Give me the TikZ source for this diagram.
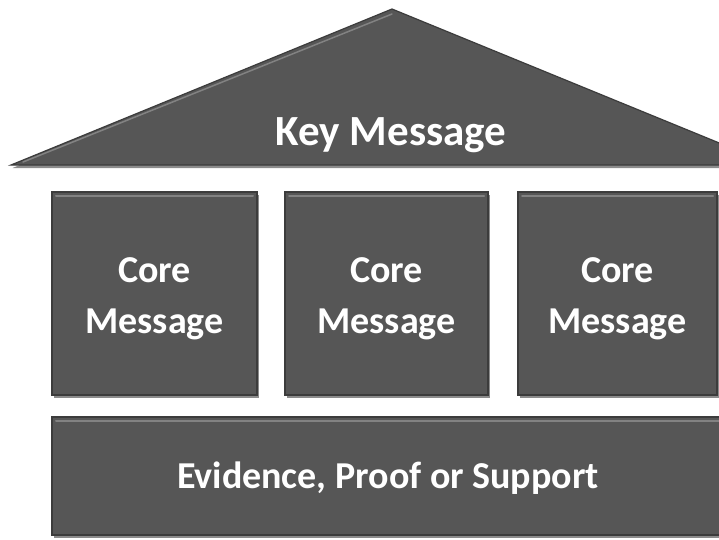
\documentclass[tikz,border=0pt]{standalone}
\usepackage{fontspec}
\setmainfont{Carlito}
\usetikzlibrary{shadows,calc}
\definecolor{panelgray}{RGB}{86,86,86}
\definecolor{edgegray}{RGB}{60,60,60}
\definecolor{hilite}{RGB}{130,130,130}
\tikzset{
  panel/.style={fill=panelgray, draw=edgegray, line width=1.2pt, inner sep=0pt, outer sep=0pt,
    drop shadow={shadow xshift=1.5pt, shadow yshift=-3pt, opacity=0.45, fill=black}},
  hiline/.style={draw=hilite, line width=2pt, line cap=round},
  label/.style={text=white, font=\bfseries\fontsize{38}{51}\selectfont, inner sep=0pt},
}
\begin{document}
\begin{tikzpicture}[x=1pt,y=-1pt]
\useasboundingbox (0,0) rectangle (719,539);
\fill[white] (0,0) rectangle (719,539);
\begin{scope}
\clip (0,0) rectangle (719,539);
% roof
\coordinate (rl) at (11,165);
\coordinate (rt) at (392,9);
\coordinate (rr) at (773,165);
\path[panel] (rl) -- (rt) -- (rr) -- cycle;
\draw[hiline, line width=1.5pt] ($(rl)+(12,-3)$) -- ($(rt)+(0,5)$);
\node[label, anchor=base, font=\bfseries\fontsize{43}{51}\selectfont] (key) at (391,145) {Key Message};
% core boxes
\node[panel, minimum width=205pt, minimum height=203pt] (c1) at (154.5,293.5) {};
\node[panel, minimum width=203pt, minimum height=203pt] (c2) at (386.5,293.5) {};
\node[panel, minimum width=199pt, minimum height=203pt] (c3) at (617.5,293.5) {};
\foreach \b in {c1,c2,c3}{
  \draw[hiline] ($(\b.north west)+(4,4)$) -- ($(\b.north east)+(-4,4)$);
}
\node[label, anchor=base] (t1a) at (154.5,282) {Core};
\node[label, anchor=base] (t1b) at (154.5,333) {Message};
\node[label, anchor=base] (t2a) at (386.5,282) {Core};
\node[label, anchor=base] (t2b) at (386.5,333) {Message};
\node[label, anchor=base] (t3a) at (617.5,282) {Core};
\node[label, anchor=base] (t3b) at (617.5,333) {Message};
% base
\node[panel, minimum width=700pt, minimum height=118pt] (ev) at (402,476) {};
\draw[hiline] ($(ev.north west)+(4,4)$) -- ($(ev.north east)+(-4,4)$);
\node[label, anchor=base] (evt) at (388,488) {Evidence, Proof or Support};
\end{scope}
\end{tikzpicture}
\end{document}
